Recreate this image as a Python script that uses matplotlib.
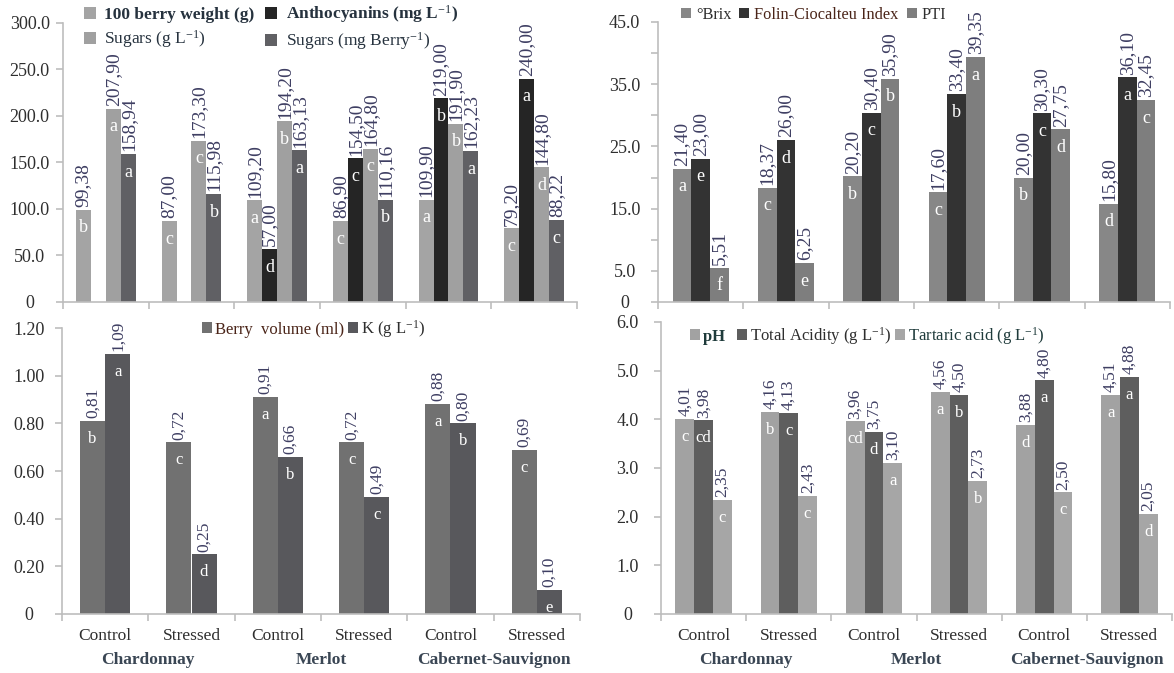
import numpy as np
import matplotlib
matplotlib.use("Agg")
import matplotlib.pyplot as plt
from matplotlib.ticker import FixedLocator

plt.rcParams['font.family'] = ['Liberation Serif', 'DejaVu Serif']
plt.rcParams['mathtext.fontset'] = 'custom'
plt.rcParams['mathtext.rm'] = 'Liberation Serif'
plt.rcParams['mathtext.it'] = 'Liberation Serif:italic'
plt.rcParams['mathtext.bf'] = 'Liberation Serif:bold'

# ---------------- data ----------------
treatments = ["Control", "Stressed", "Control", "Stressed", "Control", "Stressed"]
varieties = ["Chardonnay", "Merlot", "Cabernet-Sauvignon"]

# Panel A (top-left)
berry_weight = [99.38, 87.00, 109.20, 86.90, 109.90, 79.20]
berry_weight_let = ["b", "c", "a", "c", "a", "c"]
anthocyanins = [np.nan, np.nan, 57.00, 154.50, 219.00, 240.00]
anthocyanins_let = ["", "", "d", "c", "b", "a"]
sugars_gl = [207.90, 173.30, 194.20, 164.80, 191.90, 144.80]
sugars_gl_let = ["a", "c", "b", "c", "b", "d"]
sugars_berry = [158.94, 115.98, 163.13, 110.16, 162.23, 88.22]
sugars_berry_let = ["a", "b", "a", "b", "a", "c"]

# Panel B (top-right)
brix = [21.40, 18.37, 20.20, 17.60, 20.00, 15.80]
brix_let = ["a", "c", "b", "c", "b", "d"]
folin = [23.00, 26.00, 30.40, 33.40, 30.30, 36.10]
folin_let = ["e", "d", "c", "b", "c", "a"]
pti = [5.51, 6.25, 35.90, 39.35, 27.75, 32.45]
pti_let = ["f", "e", "b", "a", "d", "c"]

# Panel C (bottom-left)
berry_volume = [0.81, 0.72, 0.91, 0.72, 0.88, 0.69]
berry_volume_let = ["b", "c", "a", "c", "a", "c"]
potassium = [1.09, 0.25, 0.66, 0.49, 0.80, 0.10]
potassium_let = ["a", "d", "b", "c", "b", "e"]

# Panel D (bottom-right)
ph = [4.01, 4.16, 3.96, 4.56, 3.88, 4.51]
ph_let = ["c", "b", "cd", "a", "d", "a"]
total_acidity = [3.98, 4.13, 3.75, 4.50, 4.80, 4.88]
total_acidity_let = ["cd", "c", "d", "b", "a", "a"]
tartaric = [2.35, 2.43, 3.10, 2.73, 2.50, 2.05]
tartaric_let = ["c", "c", "a", "b", "c", "d"]

# ---------------- figure ----------------
W, H = 1174, 673
fig = plt.figure(figsize=(W / 100, H / 100), dpi=100)


def px_axes(l, r, b, t):
    return fig.add_axes([l / W, 1 - b / H, (r - l) / W, (b - t) / H])


LABEL_C = "#3e3e62"
TICK_C = "#2e2e2e"
SPINE_C = "#bdbdbd"


def style(ax, ymax, yticks, ylabels, minor=None):
    ax.set_xlim(-0.5, 5.5)
    ax.set_ylim(0, ymax)
    for s in ["top", "right"]:
        ax.spines[s].set_visible(False)
    for s in ["left", "bottom"]:
        ax.spines[s].set_color(SPINE_C)
        ax.spines[s].set_linewidth(1.2)
    ax.set_yticks(yticks)
    ax.set_yticklabels(ylabels)
    if minor is not None:
        ax.yaxis.set_minor_locator(FixedLocator(minor))
        ax.tick_params(axis="y", which="minor", length=5, color=SPINE_C, width=1.2)
    ax.tick_params(axis="y", which="major", length=5, color=SPINE_C, width=1.2,
                   labelsize=13, labelcolor=TICK_C, pad=19)
    ax.xaxis.set_minor_locator(FixedLocator(np.arange(-0.5, 6.0, 1.0)))
    ax.tick_params(axis="x", which="minor", length=5, color=SPINE_C, width=1.2)
    ax.tick_params(axis="x", which="major", length=0)
    ax.set_xticks(range(6))
    ax.set_xticklabels([])
    for lab in ax.get_yticklabels():
        lab.set_horizontalalignment("center")


def grouped(ax, series, width, vsize, lsize, decimals=2):
    n = len(series)
    x = np.arange(6)
    handles = []
    for i, (vals, lets, col) in enumerate(series):
        off = (i - (n - 1) / 2) * width
        bars = ax.bar(x + off, vals, width=width, color=col, edgecolor="none")
        handles.append(bars)
        for xi, v, l in zip(x + off, vals, lets):
            if np.isnan(v):
                continue
            txt = f"{v:.{decimals}f}".replace(".", ",")
            ax.annotate(txt, (xi, v), xytext=(0, 2), textcoords="offset points",
                        rotation=90, ha="center", va="bottom", fontsize=vsize,
                        color=LABEL_C)
            ax.annotate(l, (xi, v), xytext=(0, -13), textcoords="offset points",
                        ha="center", va="center", fontsize=lsize, color="white")
    return handles


# Panel A
ax1 = px_axes(63, 577, 302, 23)
h1 = grouped(ax1, [(berry_weight, berry_weight_let, "#a4a4a4"),
                   (anthocyanins, anthocyanins_let, "#252525"),
                   (sugars_gl, sugars_gl_let, "#a0a0a0"),
                   (sugars_berry, sugars_berry_let, "#606064")],
             width=0.175, vsize=14, lsize=13)
style(ax1, 300, [0, 50, 100, 150, 200, 250, 300],
      ["0", "50.0", "100.0", "150.0", "200.0", "250.0", "300.0"])
leg1 = ax1.legend([h1[0], h1[2], h1[1], h1[3]],
                  ["100 berry weight (g)", r"Sugars (g L$^{-1}$)",
                   r"Anthocyanins (mg L$^{-1}$)", r"Sugars (mg Berry$^{-1}$)"],
                  ncol=2, loc="upper left", bbox_to_anchor=(0.04, 1.07),
                  frameon=False, fontsize=12.5, handlelength=0.7, handleheight=0.7,
                  handletextpad=0.5, columnspacing=0.6, borderpad=0, borderaxespad=0,
                  labelspacing=0.3)
for t, bold in zip(leg1.get_texts(), [True, False, True, False]):
    t.set_color("#26323e")
    if bold:
        t.set_fontweight("bold")

# Panel B
ax2 = px_axes(658, 1170, 302, 22)
h2 = grouped(ax2, [(brix, brix_let, "#878787"),
                   (folin, folin_let, "#333333"),
                   (pti, pti_let, "#7e7e7e")],
             width=0.22, vsize=14, lsize=13)
style(ax2, 45, [0, 5, 15, 25, 35, 45],
      ["0", "5.0", "15.0", "25.0", "35.0", "45.0"], minor=[10, 20, 30, 40])
leg2 = ax2.legend(h2, ["°Brix", "Folin-Ciocalteu Index", "PTI"], ncol=3,
                  loc="upper left", bbox_to_anchor=(0.045, 1.055), frameon=False,
                  fontsize=11.8, handlelength=0.6, handleheight=0.6,
                  handletextpad=0.3, columnspacing=0.5, borderpad=0, borderaxespad=0)
for t, c in zip(leg2.get_texts(), ["#2e2e2e", "#4a2418", "#2e2e2e"]):
    t.set_color(c)

# Panel C
ax3 = px_axes(62, 580, 614, 328)
h3 = grouped(ax3, [(berry_volume, berry_volume_let, "#717171"),
                   (potassium, potassium_let, "#58585c")],
             width=0.29, vsize=12.5, lsize=12)
style(ax3, 1.2, [0, 0.2, 0.4, 0.6, 0.8, 1.0, 1.2],
      ["0", "0.20", "0.40", "0.60", "0.80", "1.00", "1.20"])
leg3 = ax3.legend(h3, ["Berry  volume (ml)", r"K (g L$^{-1}$)"], ncol=2,
                  loc="upper left", bbox_to_anchor=(0.27, 1.035), frameon=False,
                  fontsize=12, handlelength=0.6, handleheight=0.6,
                  handletextpad=0.2, columnspacing=0.2, borderpad=0, borderaxespad=0)
for t, c in zip(leg3.get_texts(), ["#4a2418", "#2e2e2e"]):
    t.set_color(c)

# Panel D
ax4 = px_axes(661, 1172, 614, 322)
h4 = grouped(ax4, [(ph, ph_let, "#a2a2a2"),
                   (total_acidity, total_acidity_let, "#5e5e5e"),
                   (tartaric, tartaric_let, "#a6a6a6")],
             width=0.22, vsize=12.5, lsize=12)
style(ax4, 6.0, [0, 1, 2, 3, 4, 5, 6],
      ["0", "1.0", "2.0", "3.0", "4.0", "5.0", "6.0"])
leg4 = ax4.legend(h4, ["pH  ", r"Total Acidity (g L$^{-1}$)", r"Tartaric acid (g L$^{-1}$)"],
                  ncol=3, loc="upper left", bbox_to_anchor=(0.057, 0.99), frameon=False,
                  fontsize=12, handlelength=0.6, handleheight=0.6,
                  handletextpad=0.2, columnspacing=0.2, borderpad=0, borderaxespad=0)
for t, c in zip(leg4.get_texts(), ["#1f3b3b", "#2e2e2e", "#1f3b3b"]):
    t.set_color(c)
leg4.get_texts()[0].set_fontweight("bold")

# x labels for bottom panels
for ax in (ax3, ax4):
    ax.set_xticklabels(treatments)
    ax.tick_params(axis="x", which="major", labelsize=12.5, labelcolor=TICK_C, pad=10)
    for j, v in enumerate(varieties):
        ax.annotate(v, (2 * j + 0.5, 0), xycoords=("data", "axes fraction"),
                    xytext=(0, -33), textcoords="offset points", ha="center",
                    va="center", fontsize=12.5, fontweight="bold", color="#3a4654")

fig.savefig("out.png", dpi=100)
